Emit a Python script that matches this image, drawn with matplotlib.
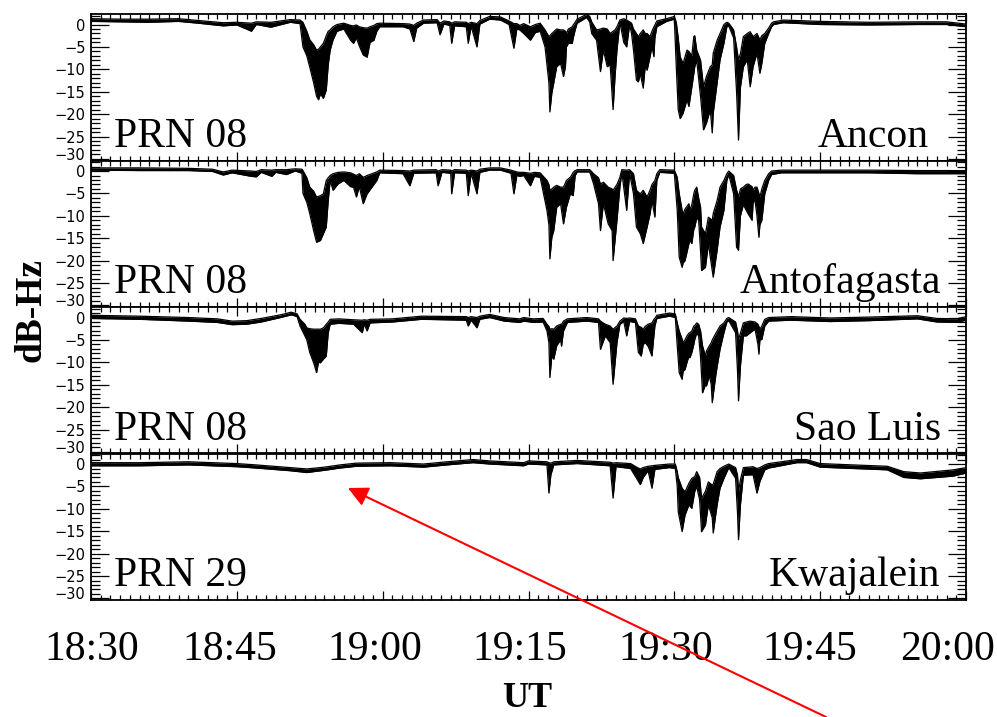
import matplotlib
matplotlib.use("Agg")
import matplotlib.pyplot as plt
import matplotlib.transforms as mtransforms
import numpy as np
from matplotlib.ticker import MultipleLocator, FixedLocator

# ---------------- data (minutes after 18:30 UT, upper / lower envelope in dB-Hz) -------------
STATIONS = ["Ancon", "Antofagasta", "Sao Luis", "Kwajalein"]
PRNS = ["PRN 08", "PRN 08", "PRN 08", "PRN 29"]
X_TICKS = [0, 15, 30, 45, 60, 75, 90]
X_TICK_LABELS = ["18:30", "18:45", "19:00", "19:15", "19:30", "19:45", "20:00"]
Y_TICKS = [0, -5, -10, -15, -20, -25, -30]

ancon = [
    (0, 1.3, 0.7), (3, 1.2, 0.6), (6, 1.2, 0.5), (9, 1.3, 0.7), (11, 0.9, 0.3),
    (13.6, 0.4, -0.3), (15, 0.5, -0.1), (16.5, 0.3, -1.5), (17, 0.6, 0.0), (18.5, 0.5, -0.6),
    (20.5, 1.1, 0.5), (21.5, 1.0, 0.2), (21.8, 0.5, -5.0), (22.2, -1.5, -7.0), (22.5, -3.4, -9.5),
    (22.9, -4.5, -13.0), (23.2, -5.7, -16.0), (23.4, -5.5, -16.8), (23.6, -5.0, -15.5),
    (23.9, -4.2, -16.5), (24.2, -2.5, -14.6), (24.4, -1.5, -9.0), (24.6, -1.2, -5.7),
    (24.9, -0.5, -3.4), (25.3, 0.0, -1.5), (26.0, 0.3, -1.0), (26.7, -0.2, -3.5),
    (27.0, -0.3, -4.2), (27.3, -0.1, -3.0), (27.6, -0.5, -4.8), (28.0, -0.7, -6.8),
    (28.4, -0.8, -7.3), (28.7, -0.5, -4.0), (29.1, -0.2, -3.5), (29.4, 0.2, -1.5),
    (29.7, 0.3, -0.5), (32.1, 0.2, -0.5), (32.8, 0.1, -1.0), (33.2, -0.2, -3.8),
    (33.5, 0.3, -0.8), (34.2, 1.0, 0.3), (35.6, 1.1, 0.4), (35.9, 0.3, -2.3), (36.3, 0.8, 0.1),
    (36.9, 0.6, -0.2), (37.1, 0.3, -4.2), (37.4, 0.6, -0.3), (38.6, 0.5, -0.5), (38.8, 0.2, -4.2),
    (39.1, 0.5, -0.4), (39.7, 0.2, -5.0), (40.0, 0.9, 0.1), (41.0, 1.8, 1.2), (42.1, 1.7, 1.0),
    (43.0, 0.8, 0.0), (43.5, 0.2, -5.3), (43.8, 0.2, -1.0), (44.1, -0.2, -1.2),
    (44.5, 0.2, -2.0), (45.2, -0.5, -3.5), (45.7, 0.0, -1.8), (46.2, 0.3, -1.5),
    (46.7, -1.2, -5.0), (47.1, -2.7, -13.0), (47.2, -2.5, -19.5), (47.4, -2.0, -15.3),
    (47.6, -1.6, -13.0), (47.9, -1.0, -9.4), (48.3, -1.2, -8.7), (48.6, -1.2, -11.6),
    (48.8, -1.5, -9.4), (48.9, -2.0, -5.0), (49.1, -1.0, -4.2), (49.5, -0.5, -4.2),
    (49.6, -0.1, -3.0), (49.8, 0.5, -1.2), (50.0, 1.2, 0.3), (51.0, 2.3, 1.6), (51.3, 1.8, 0.5),
    (51.5, 0.6, -2.0), (52.0, -1.2, -3.5), (52.4, -1.0, -10.5), (52.7, -0.8, -5.7),
    (53.1, -1.0, -9.4), (53.4, -2.0, -9.0), (53.7, -1.5, -19.0), (53.9, -1.2, -11.6),
    (54.1, -0.5, -5.7), (54.4, 1.0, 0.5), (54.8, 1.3, -4.0), (55.1, 1.0, -5.0), (55.4, 0.6, 0.0),
    (55.6, 0.3, -2.0), (55.8, -1.0, -5.7), (56.1, -2.0, -12.4), (56.3, -2.7, -12.8),
    (56.5, -2.0, -11.0), (56.8, -1.2, -14.2), (57.0, -2.0, -9.4), (57.2, -2.0, -10.2),
    (57.5, -2.7, -7.2), (57.7, -1.5, -4.9), (57.9, -0.5, -7.2), (58.0, -0.1, -3.0),
    (58.2, 0.8, -0.5), (59.2, 1.3, 0.7), (60.0, 1.8, 1.2), (60.2, 0.5, -9.4), (60.4, -3.0, -19.0),
    (60.6, -7.2, -21.0), (60.9, -8.7, -19.8), (61.3, -5.7, -16.8), (61.5, -6.0, -18.3),
    (61.8, -7.0, -14.0), (62.0, -2.7, -11.0), (62.1, -2.5, -9.4), (62.3, -5.7, -8.0),
    (62.7, -8.0, -16.1), (63.0, -13.9, -23.5), (63.3, -11.6, -22.0), (63.7, -9.4, -19.0),
    (63.9, -9.0, -24.2), (64.0, -6.4, -19.8), (64.4, -3.5, -13.1), (64.7, -2.0, -7.9),
    (65.1, 0.0, -4.2), (65.4, 0.5, -0.5), (65.6, 0.3, -0.3), (66.1, -1.2, -3.0),
    (66.4, -5.0, -15.0), (66.6, -7.9, -25.8), (66.8, -6.5, -14.0), (67.1, -2.7, -9.4),
    (67.5, -2.0, -7.9), (67.8, -1.6, -13.9), (68.1, -2.7, -9.4), (68.5, -2.0, -6.4),
    (68.8, -3.4, -10.9), (69.0, -2.5, -8.7), (69.3, -2.0, -4.2), (69.7, -0.8, -2.0),
    (70.0, 0.3, -0.5), (70.2, 0.6, 0.0), (71.2, 1.0, 0.4), (75, 0.7, 0.0), (80, 0.5, -0.1),
    (85, 0.6, 0.0), (88, 0.6, 0.0), (90, 0.1, -0.5),
]

antofagasta = [
    (0, 0.7, 0.2), (5, 0.7, 0.1), (10, 0.6, 0.1), (12.5, 0.4, -0.1), (13.6, -0.2, -0.9),
    (14.5, 0.2, -0.4), (16.5, 0.0, -1.2), (17.0, -0.1, -1.3), (17.5, 0.3, -0.3), (18.6, 0.2, -1.2),
    (19.0, 0.3, -0.3), (20.1, 0.3, -0.8), (21.0, 0.5, 0.0), (21.7, 0.4, -0.5), (21.8, 0.1, -5.0),
    (22.2, -1.5, -7.0), (22.5, -3.6, -9.5), (22.9, -4.5, -13.3), (23.2, -5.8, -15.9),
    (23.6, -5.5, -15.5), (23.9, -5.1, -14.0), (24.2, -2.1, -12.5), (24.4, -1.5, -6.6),
    (24.6, -1.0, -2.1), (24.9, -0.6, -4.3), (25.4, -0.3, -2.9), (26.0, -0.2, -2.1),
    (26.7, -0.4, -3.5), (27.0, -0.7, -3.6), (27.3, -1.0, -5.8), (27.6, -0.6, -3.5),
    (28.0, -1.4, -7.3), (28.4, -1.0, -5.1), (28.9, -0.6, -3.6), (29.4, -0.2, -2.1),
    (29.7, 0.2, -0.4), (32.1, 0.1, -0.6), (32.8, 0.0, -3.3), (33.2, 0.2, -0.5), (35.5, 0.3, -0.4),
    (35.7, 0.0, -3.3), (36.1, 0.3, -0.3), (37.0, 0.2, -0.5), (37.1, 0.0, -5.1), (37.4, 0.3, -0.4),
    (38.6, 0.2, -0.5), (38.8, 0.0, -5.5), (39.1, 0.2, -0.5), (39.7, 0.0, -5.1), (40.0, 0.4, -0.3),
    (41.0, 0.7, 0.2), (42.1, 0.7, 0.2), (43.2, 0.2, -0.5), (43.5, 0.0, -5.1), (43.8, -0.2, -1.0),
    (44.1, -0.3, -1.2), (44.5, -0.3, -1.0), (45.2, -0.5, -3.3), (45.6, -0.3, -1.2),
    (46.2, -0.4, -1.4), (46.9, -2.1, -8.8), (47.1, -3.0, -12.0), (47.2, -4.3, -19.6),
    (47.4, -4.0, -14.8), (47.6, -3.6, -13.3), (47.9, -3.2, -8.1), (48.3, -3.6, -7.3),
    (48.6, -3.6, -11.8), (48.9, -2.1, -8.1), (49.3, -1.4, -5.1), (49.6, -0.3, -5.5),
    (49.8, 0.1, -1.0), (50.0, 0.3, -0.2), (51.3, 0.3, -0.2), (51.7, -0.6, -2.9),
    (52.2, -1.5, -7.3), (52.4, -2.9, -13.3), (52.7, -2.5, -7.3), (53.2, -3.6, -11.8),
    (53.6, -4.0, -13.3), (53.7, -4.3, -20.0), (54.1, -3.0, -11.0), (54.4, -1.4, -3.6),
    (54.6, 0.3, -0.3), (55.1, 0.2, -8.8), (55.4, 0.3, -0.5), (55.8, -0.6, -5.1),
    (56.1, -4.3, -12.5), (56.5, -5.1, -14.0), (56.8, -4.3, -16.2), (57.2, -5.8, -12.5),
    (57.5, -4.3, -9.6), (57.7, -3.0, -6.6), (58.0, -2.1, -10.3), (58.2, -0.6, -2.1),
    (58.5, 0.3, -0.3), (60.0, 0.2, -0.5), (60.3, -1.4, -8.8), (60.5, -5.0, -19.2),
    (60.8, -8.8, -21.5), (60.9, -9.6, -20.5), (61.1, -8.5, -20.0), (61.5, -7.3, -16.2),
    (61.6, -8.8, -15.5), (61.8, -7.5, -16.2), (62.0, -5.1, -13.0), (62.1, -4.3, -12.5),
    (62.3, -3.6, -10.5), (62.5, -6.0, -11.0), (62.7, -8.1, -18.0), (62.8, -12.5, -22.2),
    (63.2, -14.0, -21.5), (63.5, -10.3, -16.2), (63.9, -11.0, -22.2), (64.0, -9.5, -23.7),
    (64.4, -6.6, -17.7), (64.7, -3.6, -12.5), (65.1, -2.1, -8.8), (65.4, -0.6, -2.1),
    (65.6, 0.0, -0.8), (66.1, -1.0, -5.1), (66.4, -4.2, -17.0), (66.6, -5.8, -17.7),
    (66.8, -4.0, -10.0), (67.1, -3.6, -7.5), (67.4, -3.0, -8.8), (67.6, -2.9, -9.6),
    (68.0, -3.5, -11.0), (68.1, -4.3, -7.0), (68.3, -3.6, -6.6), (68.5, -3.6, -10.0),
    (68.7, -5.0, -14.8), (68.8, -5.8, -12.0), (69.0, -4.0, -11.0), (69.3, -2.1, -5.1),
    (69.7, -0.6, -2.1), (70.0, 0.0, -0.8), (71, 0.2, -0.4), (80, 0.2, -0.4), (85, 0.1, -0.6),
    (90, 0.1, -0.6),
]

sao_luis = [
    (0, 0.5, -0.2), (5, 0.3, -0.4), (10, 0.0, -0.8), (13, -0.3, -1.1), (14.5, -0.8, -1.6),
    (16, -0.7, -1.5), (17.5, -0.2, -1.0), (19.5, 0.6, 0.0), (20.6, 1.2, 0.6), (21.2, 0.8, 0.2),
    (21.5, -0.4, -1.9), (22.0, -1.5, -4.1), (22.2, -2.3, -5.0), (22.5, -2.5, -7.8),
    (22.9, -2.6, -10.1), (23.2, -2.6, -12.3), (23.4, -2.6, -10.0), (23.6, -2.6, -10.1),
    (23.9, -2.3, -9.3), (24.2, -1.5, -8.6), (24.4, -1.0, -3.4), (24.6, -0.4, -1.5),
    (25.5, -0.3, -1.3), (27.0, -0.5, -1.5), (27.9, -0.6, -3.4), (28.1, -0.5, -1.5),
    (28.4, -0.6, -3.0), (28.7, -0.4, -1.2), (31, -0.3, -1.0), (34, 0.3, -0.4), (38.6, 0.2, -0.6),
    (38.8, 0.0, -1.9), (39.1, 0.2, -0.6), (39.7, 0.0, -2.3), (40.0, 0.3, -0.4), (41.0, 0.7, 0.0),
    (42.5, 0.0, -0.8), (44.1, -0.3, -1.1), (44.5, 0.0, -0.8), (45.5, -0.3, -1.1),
    (46.5, -0.2, -1.0), (46.9, -1.5, -3.0), (47.1, -2.0, -5.6), (47.2, -2.6, -13.4),
    (47.4, -2.5, -8.6), (47.6, -2.6, -9.3), (47.9, -1.9, -6.3), (48.3, -1.5, -5.0),
    (48.4, -1.5, -6.4), (48.6, -0.8, -3.0), (49.0, -0.3, -1.1), (51.0, 0.0, -0.8),
    (52.2, -0.3, -1.1), (52.4, -0.8, -7.1), (52.9, -1.5, -4.1), (53.4, -1.9, -5.6),
    (53.7, -2.6, -14.9), (54.1, -1.9, -5.6), (54.4, -0.8, -1.5), (54.8, -0.1, -0.9),
    (55.1, -0.2, -4.1), (55.4, -0.1, -0.9), (56.0, -0.3, -1.1), (56.3, -1.9, -7.8),
    (56.6, -2.2, -8.6), (56.8, -2.6, -6.0), (57.0, -2.0, -5.6), (57.3, -1.5, -6.4),
    (57.7, -1.2, -8.6), (57.9, -0.4, -4.0), (58.0, -0.2, -1.9), (58.2, 0.5, -0.2),
    (59.5, 1.0, 0.3), (60.1, 0.8, 0.0), (60.3, -1.2, -6.3), (60.5, -3.0, -12.3),
    (60.8, -4.8, -13.8), (60.9, -5.6, -12.0), (61.1, -5.0, -11.6), (61.3, -4.1, -10.0),
    (61.5, -3.5, -8.6), (61.6, -3.4, -9.0), (61.8, -3.0, -7.8), (62.0, -1.9, -6.0),
    (62.1, -1.8, -4.9), (62.3, -1.2, -3.5), (62.5, -1.5, -4.1), (62.7, -3.0, -9.0),
    (62.9, -6.3, -16.8), (63.2, -8.6, -15.0), (63.3, -7.5, -15.3), (63.6, -6.3, -13.0),
    (63.8, -5.6, -15.0), (63.9, -5.0, -19.0), (64.3, -3.4, -12.3), (64.7, -1.9, -7.1),
    (65.1, -1.2, -3.4), (65.4, -0.2, -1.0), (65.6, 0.0, -0.7), (66.3, -1.0, -3.4),
    (66.5, -3.0, -12.0), (66.6, -4.9, -18.6), (66.8, -3.5, -10.8), (67.1, -1.2, -4.1),
    (67.4, -1.0, -4.1), (67.8, -0.8, -3.4), (68.3, -1.0, -2.6), (68.6, -1.5, -6.0),
    (68.7, -2.0, -8.2), (68.8, -2.6, -5.0), (69.0, -1.9, -4.9), (69.3, -0.4, -1.9),
    (69.7, 0.0, -0.8), (72, 0.2, -0.6), (76, -0.1, -0.9), (80, 0.1, -0.7), (85, 0.4, -0.3),
    (87, -0.2, -1.0), (89, -0.3, -1.1), (90, 0.2, -0.6),
]

kwajalein = [
    (0, 0.3, -0.4), (5, 0.3, -0.4), (10, 0.5, -0.2), (15, 0.1, -0.6), (17, -0.2, -0.9),
    (20.5, -0.8, -1.5), (22.2, -1.1, -1.9), (24, -0.7, -1.4), (25.6, -0.2, -0.9), (27.3, 0.2, -0.5),
    (30.8, 0.3, -0.4), (34.2, 0.0, -0.7), (36.6, 0.5, -0.2), (39.3, 1.0, 0.3), (41, 0.7, 0.0),
    (44.5, 0.3, -0.4), (45, 0.7, 0.0), (46.9, 0.5, -0.2), (47.1, 0.3, -6.5), (47.3, 0.2, -2.4),
    (47.6, 0.5, -0.2), (50, 0.8, 0.1), (53.4, 0.4, -0.4), (53.7, 0.2, -7.6), (54.0, 0.3, -0.6),
    (55.5, 0.1, -1.0), (56.2, -0.8, -3.5), (56.5, -1.1, -4.6), (56.8, -0.8, -3.0),
    (57.3, -0.5, -1.5), (57.7, -0.4, -5.4), (58.0, -0.3, -1.2), (59.5, 0.0, -0.8),
    (60.1, 0.0, -1.0), (60.3, -1.7, -5.0), (60.4, -3.0, -10.6), (60.8, -5.4, -15.1),
    (61.1, -6.2, -11.4), (61.5, -4.3, -9.1), (61.8, -3.2, -9.9), (62.1, -2.8, -6.1),
    (62.3, -1.7, -5.0), (62.6, -3.0, -8.0), (62.8, -7.6, -15.1), (63.2, -6.1, -13.6),
    (63.5, -4.0, -9.1), (63.9, -4.7, -12.0), (64.0, -4.5, -15.4), (64.4, -1.7, -9.1),
    (64.7, -1.0, -5.4), (65.1, -0.5, -3.2), (65.6, 0.0, -0.8), (66.3, -0.8, -3.2),
    (66.5, -2.5, -11.0), (66.6, -6.1, -16.9), (66.8, -3.5, -9.1), (67.1, -0.8, -2.5),
    (68.1, -0.6, -2.4), (68.5, -1.0, -6.5), (68.8, -0.8, -3.9), (69.3, -0.2, -1.3),
    (69.7, 0.1, -0.9), (72.6, 1.0, 0.3), (73.6, 1.0, 0.3), (75, 0.1, -0.7), (78.4, -0.2, -1.0),
    (81.9, -0.5, -1.3), (83.6, -1.7, -3.0), (85.3, -2.0, -3.3), (88.7, -1.3, -2.7),
    (90, -0.8, -2.0),
]

SERIES = [ancon, antofagasta, sao_luis, kwajalein]

# ---------------- layout ----------------
W, H = 997, 717
fig = plt.figure(figsize=(W / 100, H / 100), dpi=100)
LEFT_PX, RIGHT_PX, TOP_PX, PANEL_PX = 91, 966, 14, 146.5
SERIF = ["Liberation Serif", "DejaVu Serif"]
XLABEL_SHIFT_PX = [1, -7, -8, -9, -9, -10, -18]

axes = []
for i, (series, prn, name) in enumerate(zip(SERIES, PRNS, STATIONS)):
    top = TOP_PX + PANEL_PX * i
    ax = fig.add_axes([LEFT_PX / W, 1 - (top + PANEL_PX) / H,
                       (RIGHT_PX - LEFT_PX) / W, PANEL_PX / H])
    arr = np.array(series, dtype=float)
    t, hi, lo = arr[:, 0], arr[:, 1], arr[:, 2]
    ax.fill_between(t, lo, hi, color="black", lw=0)
    ax.plot(t, hi, color="black", lw=0.9)
    ax.plot(t, lo, color="black", lw=0.9)

    ax.set_xlim(0, 90)
    ax.set_ylim(-30.35, 2.35)
    ax.xaxis.set_major_locator(FixedLocator(X_TICKS))
    ax.xaxis.set_minor_locator(MultipleLocator(1))
    ax.yaxis.set_major_locator(FixedLocator(Y_TICKS))
    ax.yaxis.set_minor_locator(MultipleLocator(1))
    ax.tick_params(axis="both", which="both", direction="in",
                   top=True, right=True, width=0.9, color="black")
    ax.tick_params(axis="x", which="major", length=6.5)
    ax.tick_params(axis="x", which="minor", length=3.5)
    ax.tick_params(axis="y", which="major", length=13, pad=4)
    ax.tick_params(axis="y", which="minor", length=6.5)
    for sp in ax.spines.values():
        sp.set_linewidth(1.3)
    ax.set_yticklabels([f"{v}".replace("-", "\u2212") for v in Y_TICKS],
                       fontsize=10.5, family=["DejaVu Sans"])
    ylabs = ax.get_yticklabels()
    ylabs[-1].set_transform(ylabs[-1].get_transform() +
                            mtransforms.ScaledTranslation(0, 5 / 100, fig.dpi_scale_trans))
    if i < 3:
        ax.set_xticklabels([])
    else:
        ax.set_xticklabels(X_TICK_LABELS, fontsize=30, family=SERIF)
        ax.tick_params(axis="x", which="major", pad=22)
        for lab, dx in zip(ax.get_xticklabels(), XLABEL_SHIFT_PX):
            lab.set_transform(lab.get_transform() +
                              mtransforms.ScaledTranslation(dx / 100, 0, fig.dpi_scale_trans))

    ax.text(0.026, 0.095, prn, transform=ax.transAxes, fontsize=30,
            family=SERIF, ha="left", va="baseline")
    xr = 0.957 if i == 0 else 0.971
    ax.text(xr, 0.095, name, transform=ax.transAxes, fontsize=30,
            family=SERIF, ha="right", va="baseline")
    axes.append(ax)

fig.text(31 / W, 1 - 310 / H, "dB-Hz", rotation=90, fontsize=27, fontweight="bold",
         family=SERIF, ha="center", va="center")
fig.text(527 / W, 1 - 707 / H, "UT", fontsize=26, fontweight="bold",
         family=SERIF, ha="center", va="baseline")

# red annotation arrow
axes[3].annotate("", xy=(348, H - 488), xycoords="figure pixels",
                 xytext=(826, 0), textcoords="figure pixels",
                 arrowprops=dict(arrowstyle="-|>", color="red", lw=1.5,
                                 mutation_scale=30, shrinkA=0, shrinkB=0),
                 annotation_clip=False)

fig.savefig("out.png", dpi=100)
